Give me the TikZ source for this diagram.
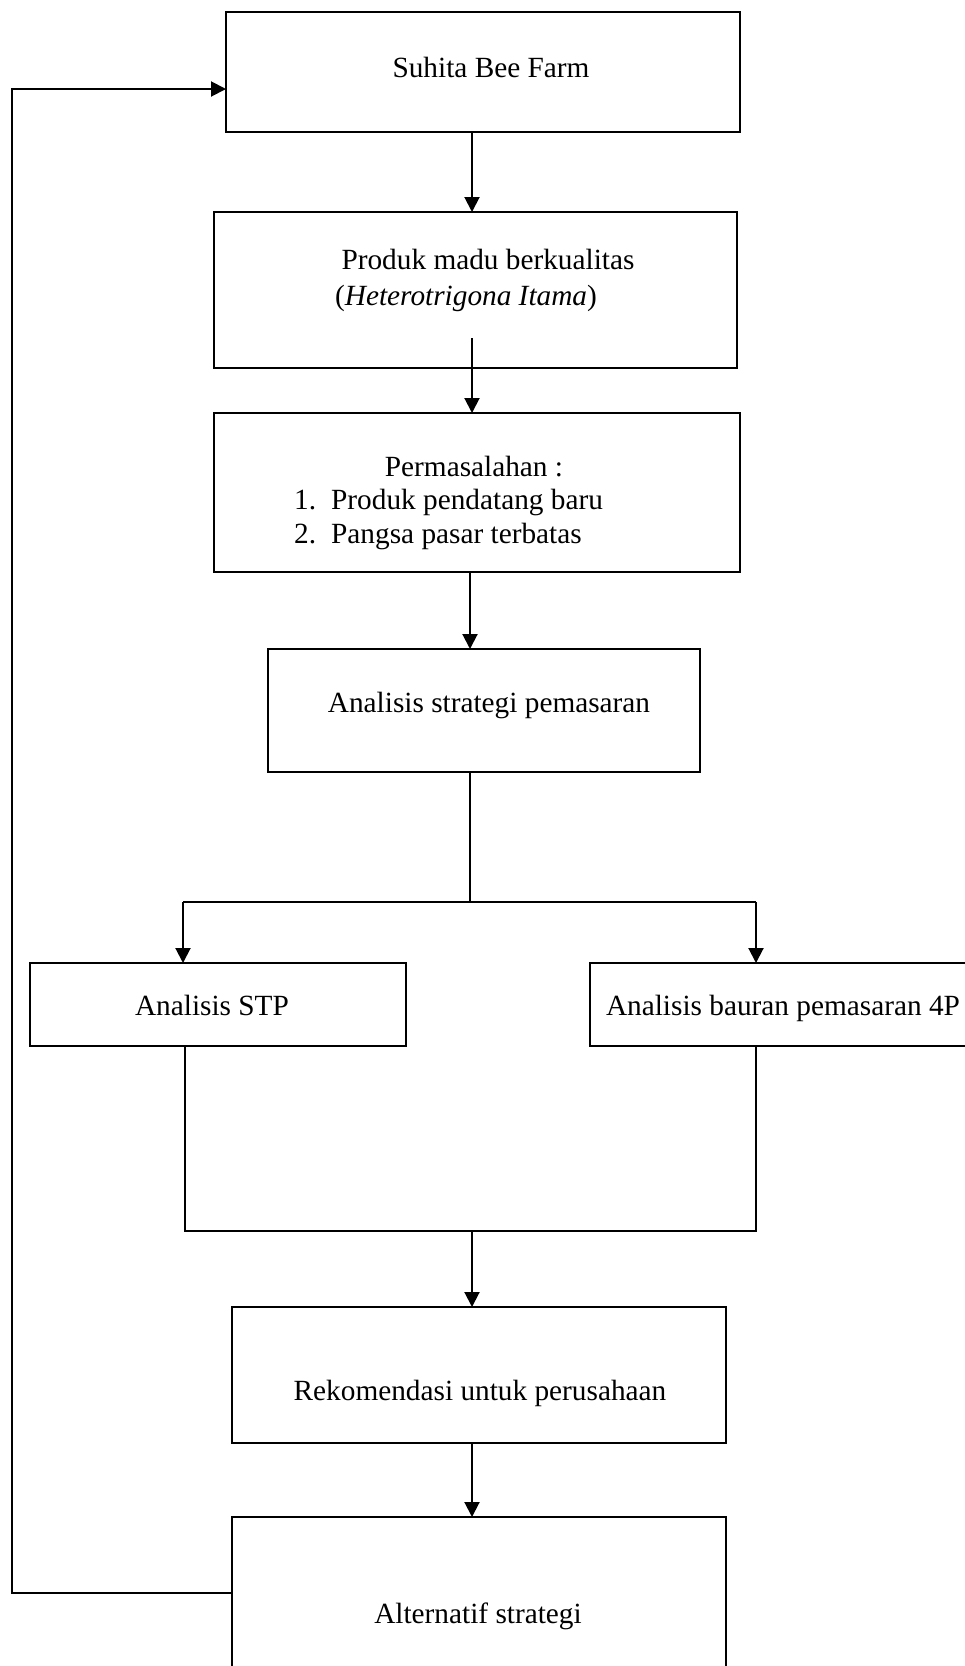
\documentclass[tikz,border=0pt]{standalone}
\usepackage{fontspec}
\setmainfont{Liberation Serif}
\usetikzlibrary{arrows.meta}
\begin{document}
\begin{tikzpicture}[x=1pt,y=-1pt,
  box/.style={draw, line width=2pt, rectangle, inner sep=0pt, outer sep=0pt},
  lbl/.style={anchor=base, inner sep=0pt, font=\fontsize{29.3}{35}\selectfont},
  lbll/.style={anchor=base west, inner sep=0pt, font=\fontsize{29.3}{35}\selectfont},
  link/.style={line width=2pt},
  arr/.style={line width=2pt, -{Triangle[length=15pt,width=15pt]}}]
\useasboundingbox (0,0) rectangle (965,1666);
\fill[white] (0,0) rectangle (965,1666);
\begin{scope}
\clip (0,0) rectangle (965,1666);
% boxes
\node[box, minimum width=514pt, minimum height=120pt] (b1) at (483,72) {};
\node[box, minimum width=523pt, minimum height=156pt] (b2) at (475.5,290) {};
\node[box, minimum width=526pt, minimum height=159pt] (b3) at (477,492.5) {};
\node[box, minimum width=432pt, minimum height=123pt] (b4) at (484,710.5) {};
\node[box, minimum width=376pt, minimum height=83pt] (b5) at (218,1004.5) {};
\node[box, minimum width=410pt, minimum height=83pt] (b6) at (795,1004.5) {};
\node[box, minimum width=494pt, minimum height=136pt] (b7) at (479,1375) {};
\node[box, minimum width=494pt, minimum height=183pt] (b8) at (479,1608.5) {};
% texts
\node[lbl] (t1) at (491,77) {Suhita Bee Farm};
\node[lbl] (t2a) at (488,269) {Produk madu berkualitas};
\node[lbl] (t2b) at (466,305) {(\textit{Heterotrigona Itama})};
\node[lbl] (t3) at (474,476) {Permasalahan :};
\node[lbll] (t3a) at (294,509) {\makebox[37pt][l]{1.}Produk pendatang baru};
\node[lbll] (t3b) at (294,543) {\makebox[37pt][l]{2.}Pangsa pasar terbatas};
\node[lbl] (t4) at (489,712) {Analisis strategi pemasaran};
\node[lbl] (t5) at (212,1015) {Analisis STP};
\node[lbl] (t6) at (783,1015) {Analisis bauran pemasaran 4P};
\node[lbl] (t7) at (480,1400) {Rekomendasi untuk perusahaan};
\node[lbl] (t8) at (478,1623) {Alternatif strategi};
% helper coordinates
\coordinate (c1) at (472,0);
\coordinate (c2) at (470,0);
\coordinate (a2) at (472,338);
\coordinate (split) at (470,902);
\coordinate (sl) at (183,902);
\coordinate (sr) at (756,902);
\coordinate (jl) at (185,1231);
\coordinate (jr) at (756,1231);
\coordinate (jm) at (472,1231);
\coordinate (fb1) at (12,1593);
\coordinate (fb2) at (12,89);
% connectors
\draw[arr] (b1.south -| c1) -- (b2.north -| c1);
\draw[arr] (a2) -- (b3.north -| a2);
\draw[arr] (b3.south -| c2) -- (b4.north -| c2);
\draw[link] (b4.south -| c2) -- (split);
\draw[link] (sl) -- (sr);
\draw[arr] (sl) -- (b5.north -| sl);
\draw[arr] (sr) -- (b6.north -| sr);
\draw[link] (b5.south -| jl) -- (jl) -- (jr) -- (b6.south -| jr);
\draw[arr] (jm) -- (b7.north -| jm);
\draw[arr] (b7.south -| c1) -- (b8.north -| c1);
\draw[arr] (b8.west |- fb1) -- (fb1) -- (fb2) -- (b1.west |- fb2);
\end{scope}
\end{tikzpicture}
\end{document}
